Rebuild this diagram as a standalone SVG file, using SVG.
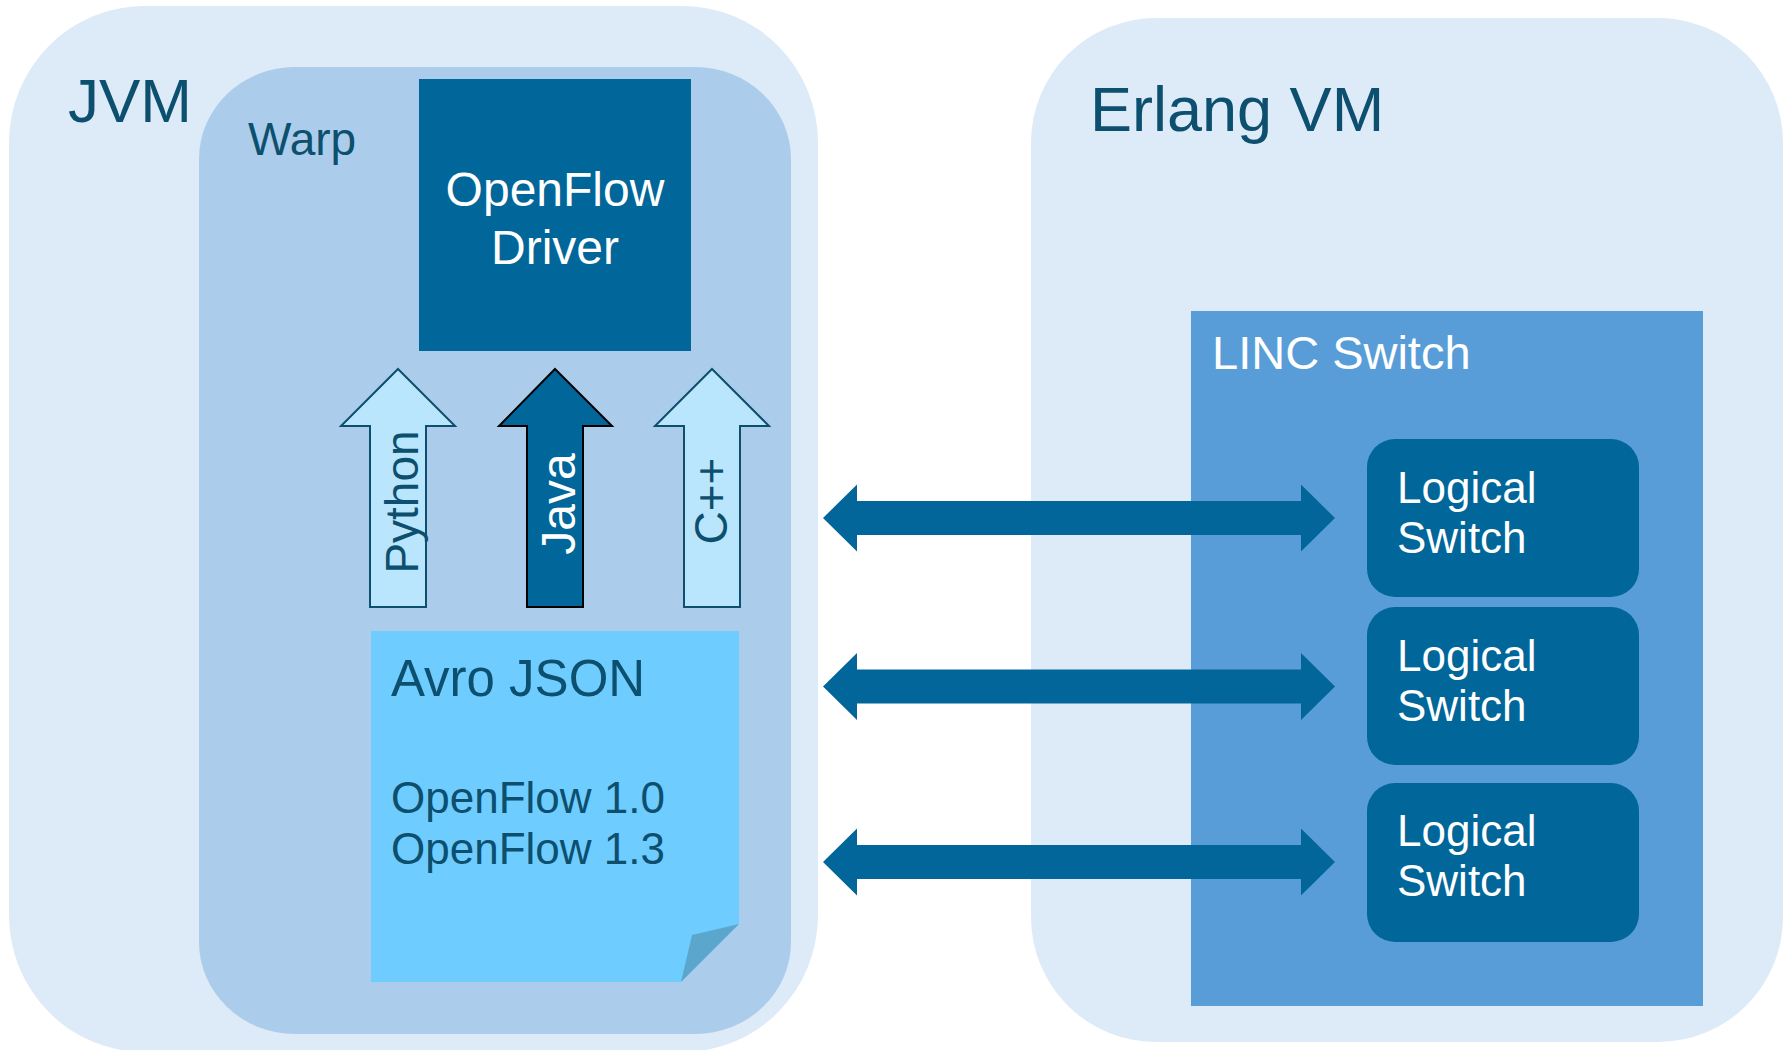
<svg xmlns="http://www.w3.org/2000/svg" width="1791" height="1050" viewBox="0 0 1791 1050">
  <style>
    text { font-family: "Liberation Sans", Arial, sans-serif; }
    .dark { fill: #0d4f6e; }
    .light { fill: #ffffff; }
    .vm { fill: #ddeaf7; }
    .sw { fill: #016699; }
    .dbl { fill: #02669a; }
    .up { fill: #b9e6fc; stroke: #0d4f6e; stroke-width: 2; }
  </style>
  <rect width="1791" height="1050" fill="#ffffff"/>
  <g id="jvm">
    <rect class="vm" x="9" y="6" width="809" height="1046" rx="135" ry="137"/>
    <text class="dark" x="68" y="122" font-size="62">JVM</text>
  </g>
  <g id="warp">
    <rect x="199" y="67" width="592" height="967" rx="96" ry="92" fill="#abcdeb"/>
    <text class="dark" x="248" y="155" font-size="46">Warp</text>
  </g>
  <g id="openflow-driver">
    <rect class="sw" x="419" y="79" width="272" height="272"/>
    <text class="light" x="555" y="206" font-size="48" text-anchor="middle">OpenFlow</text>
    <text class="light" x="555" y="264" font-size="48" text-anchor="middle">Driver</text>
  </g>
  <g id="python">
    <polygon class="up" points="398,369 455,426 426,426 426,607 370,607 370,426 341,426"/>
    <text class="dark" transform="translate(418,502) rotate(-90)" font-size="46" text-anchor="middle">Python</text>
  </g>
  <g id="java">
    <polygon points="555,369 612,426 583,426 583,607 527,607 527,426 499,426" fill="#016699" stroke="#000000" stroke-width="2"/>
    <text class="light" transform="translate(575,504) rotate(-90)" font-size="48" text-anchor="middle">Java</text>
  </g>
  <g id="cpp">
    <polygon class="up" points="712,369 769,426 740,426 740,607 684,607 684,426 655,426"/>
    <text class="dark" transform="translate(727,501) rotate(-90)" font-size="46" text-anchor="middle">C++</text>
  </g>
  <g id="avro-json">
    <polygon points="371,631 739,631 739,924 681,982 371,982" fill="#6ecdfe"/>
    <polygon points="739,924 692,935 681,982" fill="#5ba6cd"/>
    <text class="dark" x="391" y="696" font-size="51">Avro JSON</text>
    <text class="dark" x="391" y="813" font-size="44">OpenFlow 1.0</text>
    <text class="dark" x="391" y="864" font-size="44">OpenFlow 1.3</text>
  </g>
  <g id="erlang-vm">
    <rect class="vm" x="1031" y="18" width="752" height="1024" rx="125" ry="125"/>
    <text class="dark" x="1090" y="131" font-size="63">Erlang VM</text>
  </g>
  <g id="linc-switch">
    <rect x="1191" y="311" width="512" height="695" fill="#589dd8"/>
    <text class="light" x="1212" y="369" font-size="47">LINC Switch</text>
  </g>
  <g id="logical-switch-1">
    <rect class="sw" x="1367" y="439" width="272" height="158" rx="28" ry="28"/>
    <text class="light" x="1397" y="503" font-size="44">Logical</text>
    <text class="light" x="1397" y="553" font-size="44">Switch</text>
  </g>
  <g id="logical-switch-2">
    <rect class="sw" x="1367" y="607" width="272" height="158" rx="28" ry="28"/>
    <text class="light" x="1397" y="671" font-size="44">Logical</text>
    <text class="light" x="1397" y="721" font-size="44">Switch</text>
  </g>
  <g id="logical-switch-3">
    <rect class="sw" x="1367" y="783" width="272" height="159" rx="28" ry="28"/>
    <text class="light" x="1397" y="846" font-size="44">Logical</text>
    <text class="light" x="1397" y="896" font-size="44">Switch</text>
  </g>
  <g id="connectors">
    <polygon class="dbl" points="823,518 857,484.5 857,501 1301,501 1301,484.5 1335,518 1301,551.5 1301,535 857,535 857,551.5"/>
    <polygon class="dbl" points="823,686.5 857,653 857,669.5 1301,669.5 1301,653 1335,686.5 1301,720 1301,703.5 857,703.5 857,720"/>
    <polygon class="dbl" points="823,862 857,828.5 857,845 1301,845 1301,828.5 1335,862 1301,895.5 1301,879 857,879 857,895.5"/>
  </g>
</svg>
